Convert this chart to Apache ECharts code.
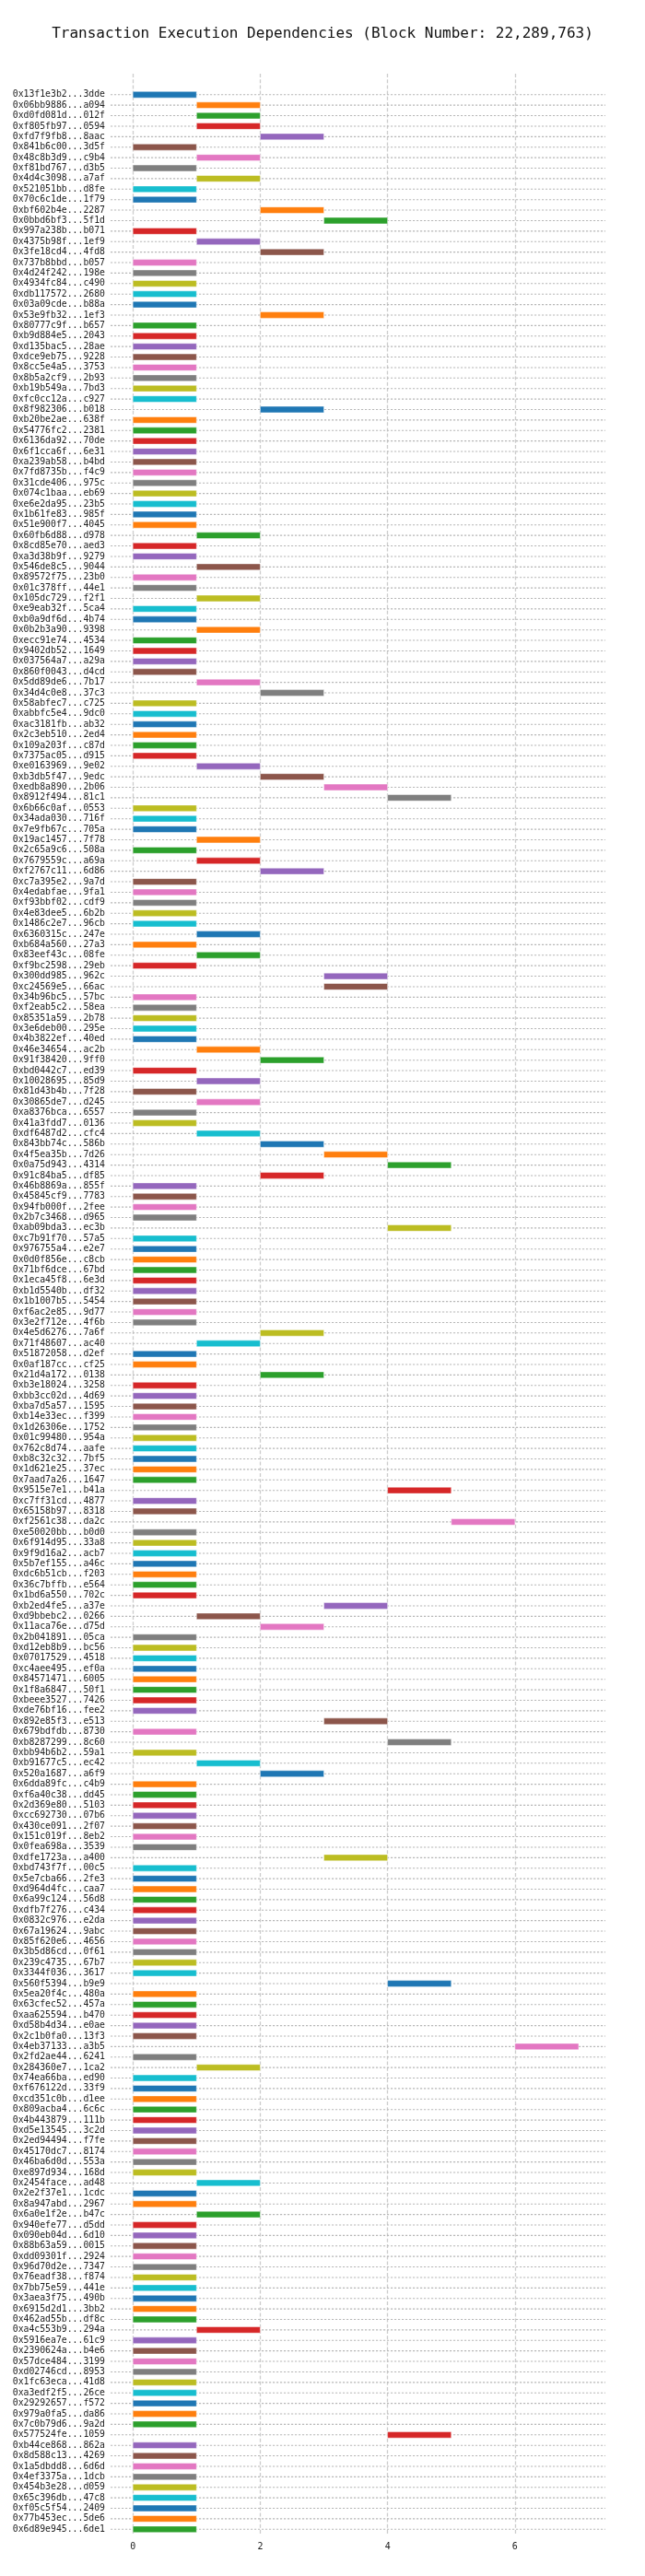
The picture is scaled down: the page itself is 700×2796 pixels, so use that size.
<!DOCTYPE html>
<html>
<head>
<meta charset="utf-8">
<title>Transaction Execution Dependencies</title>
<script src="https://cdn.jsdelivr.net/npm/echarts@6.0.0/dist/echarts.min.js"></script>
<style>
	html, body { margin: 0; padding: 0; background: #fff; }
	#deps { width: 700px; height: 2796px; }
</style>
</head>
<body>
<div id="deps"></div>
<script>
var blockNumber = '22,289,763';

// tx hashes, top to bottom
var txLabels = [
	'0x13f1e3b2...3dde', '0x06bb9886...a094', '0xd0fd081d...012f', '0xf805fb97...0594', '0xfd7f9fb8...8aac',
	'0x841b6c00...3d5f', '0x48c8b3d9...c9b4', '0xf81bd767...d3b5', '0x4d4c3098...a7af', '0x521051bb...d8fe',
	'0x70c6c1de...1f79', '0xbf602b4e...2287', '0x0bbd6bf3...5f1d', '0x997a238b...b071', '0x4375b98f...1ef9',
	'0x3fe18cd4...4fd8', '0x737b8bbd...b057', '0x4d24f242...198e', '0x4934fc84...c490', '0xdb117572...2680',
	'0x03a09cde...b88a', '0x53e9fb32...1ef3', '0x80777c9f...b657', '0xb9d884e5...2043', '0xd135bac5...28ae',
	'0xdce9eb75...9228', '0x8cc5e4a5...3753', '0x8b5a2cf9...2b93', '0xb19b549a...7bd3', '0xfc0cc12a...c927',
	'0x8f982306...b018', '0xb20be2ae...638f', '0x54776fc2...2381', '0x6136da92...70de', '0x6f1cca6f...6e31',
	'0xa239ab58...b4bd', '0x7fd8735b...f4c9', '0x31cde406...975c', '0x074c1baa...eb69', '0xe6e2da95...23b5',
	'0x1b61fe83...985f', '0x51e900f7...4045', '0x60fb6d88...d978', '0x8cd85e70...aed3', '0xa3d38b9f...9279',
	'0x546de8c5...9044', '0x89572f75...23b0', '0x01c378ff...44e1', '0x105dc729...f2f1', '0xe9eab32f...5ca4',
	'0xb0a9df6d...4b74', '0x0b2b3a90...9398', '0xecc91e74...4534', '0x9402db52...1649', '0x037564a7...a29a',
	'0x860f0043...d4cd', '0x5dd89de6...7b17', '0x34d4c0e8...37c3', '0x58abfec7...c725', '0xabbfc5e4...9dc0',
	'0xac3181fb...ab32', '0x2c3eb510...2ed4', '0x109a203f...c87d', '0x7375ac05...d915', '0xe0163969...9e02',
	'0xb3db5f47...9edc', '0xedb8a890...2b06', '0x8912f494...81c1', '0x6b66c0af...0553', '0x34ada030...716f',
	'0x7e9fb67c...705a', '0x19ac1457...7f78', '0x2c65a9c6...508a', '0x7679559c...a69a', '0xf2767c11...6d86',
	'0xc7a395e2...9a7d', '0x4edabfae...9fa1', '0xf93bbf02...cdf9', '0x4e83dee5...6b2b', '0x1486c2e7...96cb',
	'0x6360315c...247e', '0xb684a560...27a3', '0x83eef43c...08fe', '0xf9bc2598...29eb', '0x300dd985...962c',
	'0xc24569e5...66ac', '0x34b96bc5...57bc', '0xf2eab5c2...58ea', '0x85351a59...2b78', '0x3e6deb00...295e',
	'0x4b3822ef...40ed', '0x46e34654...ac2b', '0x91f38420...9ff0', '0xbd0442c7...ed39', '0x10028695...85d9',
	'0x81d43b4b...7f28', '0x30865de7...d245', '0xa8376bca...6557', '0x41a3fdd7...0136', '0xdf6487d2...cfc4',
	'0x843bb74c...586b', '0x4f5ea35b...7d26', '0x0a75d943...4314', '0x91c84ba5...df85', '0x46b8869a...855f',
	'0x45845cf9...7783', '0x94fb000f...2fee', '0x2b7c3468...d965', '0xab09bda3...ec3b', '0xc7b91f70...57a5',
	'0x976755a4...e2e7', '0x0d0f856e...c8cb', '0x71bf6dce...67bd', '0x1eca45f8...6e3d', '0xb1d5540b...df32',
	'0x1b1007b5...5454', '0xf6ac2e85...9d77', '0x3e2f712e...4f6b', '0x4e5d6276...7a6f', '0x71f48607...ac40',
	'0x51872058...d2ef', '0x0af187cc...cf25', '0x21d4a172...0138', '0xb3e18024...3258', '0xbb3cc02d...4d69',
	'0xba7d5a57...1595', '0xb14e33ec...f399', '0x1d26306e...1752', '0x01c99480...954a', '0x762c8d74...aafe',
	'0xb8c32c32...7bf5', '0x1d621e25...37ec', '0x7aad7a26...1647', '0x9515e7e1...b41a', '0xc7ff31cd...4877',
	'0x65158b97...8318', '0xf2561c38...da2c', '0xe50020bb...b0d0', '0x6f914d95...33a8', '0x9f9d16a2...acb7',
	'0x5b7ef155...a46c', '0xdc6b51cb...f203', '0x36c7bffb...e564', '0x1bd6a550...702c', '0xb2ed4fe5...a37e',
	'0xd9bbebc2...0266', '0x11aca76e...d75d', '0x2b041891...05ca', '0xd12eb8b9...bc56', '0x07017529...4518',
	'0xc4aee495...ef0a', '0x84571471...6005', '0x1f8a6847...50f1', '0xbeee3527...7426', '0xde76bf16...fee2',
	'0x892e85f3...e513', '0x679bdfdb...8730', '0xb8287299...8c60', '0xbb94b6b2...59a1', '0xb91677c5...ec42',
	'0x520a1687...a6f9', '0x6dda89fc...c4b9', '0xf6a40c38...dd45', '0x2d369e80...5103', '0xcc692730...07b6',
	'0x430ce091...2f07', '0x151c019f...8eb2', '0x0fea698a...3539', '0xdfe1723a...a400', '0xbd743f7f...00c5',
	'0x5e7cba66...2fe3', '0xd964d4fc...caa7', '0x6a99c124...56d8', '0xdfb7f276...c434', '0x0832c976...e2da',
	'0x67a19624...9abc', '0x85f620e6...4656', '0x3b5d86cd...0f61', '0x239c4735...67b7', '0x3344f036...3617',
	'0x560f5394...b9e9', '0x5ea20f4c...480a', '0x63cfec52...457a', '0xaa625594...b470', '0xd58b4d34...e0ae',
	'0x2c1b0fa0...13f3', '0x4eb37133...a3b5', '0x2fd2ae44...6241', '0x284360e7...1ca2', '0x74ea66ba...ed90',
	'0xf676122d...33f9', '0xcd351c0b...d1ee', '0x809acba4...6c6c', '0x4b443879...111b', '0xd5e13545...3c2d',
	'0x2ed94494...f7fe', '0x45170dc7...8174', '0x46ba6d0d...553a', '0xe897d934...168d', '0x2454face...ad48',
	'0x2e2f37e1...1cdc', '0x8a947abd...2967', '0x6a0e1f2e...b47c', '0x940efe77...d5dd', '0x090eb04d...6d10',
	'0x88b63a59...0015', '0xdd09301f...2924', '0x96d70d2e...7347', '0x76eadf38...f874', '0x7bb75e59...441e',
	'0x3aea3f75...490b', '0x6915d2d1...3bb2', '0x462ad55b...df8c', '0xa4c553b9...294a', '0x5916ea7e...61c9',
	'0x2390624a...b4e6', '0x57dce484...3199', '0xd02746cd...8953', '0x1fc63eca...41d8', '0xa3edf2f5...26ce',
	'0x29292657...f572', '0x979a0fa5...da86', '0x7c0b79d6...9a2d', '0x577524fe...1059', '0xb44ce868...862a',
	'0x8d588c13...4269', '0x1a5dbdd8...6d6d', '0x4ef3375a...1dcb', '0x454b3e28...d059', '0x65c396db...47c8',
	'0xf05c5f54...2409', '0x77b453ec...5de6', '0x6d89e945...6de1'
];

// execution slot each tx starts in (each one runs for one slot)
var startSlots = [
	0, 1, 1, 1, 2, 0, 1, 0, 1, 0,   0, 2, 3, 0, 1, 2, 0, 0, 0, 0,
	0, 2, 0, 0, 0, 0, 0, 0, 0, 0,   2, 0, 0, 0, 0, 0, 0, 0, 0, 0,
	0, 0, 1, 0, 0, 1, 0, 0, 1, 0,   0, 1, 0, 0, 0, 0, 1, 2, 0, 0,
	0, 0, 0, 0, 1, 2, 3, 4, 0, 0,   0, 1, 0, 1, 2, 0, 0, 0, 0, 0,
	1, 0, 1, 0, 3, 3, 0, 0, 0, 0,   0, 1, 2, 0, 1, 0, 1, 0, 0, 1,
	2, 3, 4, 2, 0, 0, 0, 0, 4, 0,   0, 0, 0, 0, 0, 0, 0, 0, 2, 1,
	0, 0, 2, 0, 0, 0, 0, 0, 0, 0,   0, 0, 0, 4, 0, 0, 5, 0, 0, 0,
	0, 0, 0, 0, 3, 1, 2, 0, 0, 0,   0, 0, 0, 0, 0, 3, 0, 4, 0, 1,
	2, 0, 0, 0, 0, 0, 0, 0, 3, 0,   0, 0, 0, 0, 0, 0, 0, 0, 0, 0,
	4, 0, 0, 0, 0, 0, 6, 0, 1, 0,   0, 0, 0, 0, 0, 0, 0, 0, 0, 1,
	0, 0, 1, 0, 0, 0, 0, 0, 0, 0,   0, 0, 0, 1, 0, 0, 0, 0, 0, 0,
	0, 0, 0, 4, 0, 0, 0, 0, 0, 0,   0, 0, 0
];
var slotLength = 1;

var palette = ['#1f77b4', '#ff7f0e', '#2ca02c', '#d62728', '#9467bd',
	'#8c564b', '#e377c2', '#7f7f7f', '#bcbd22', '#17becf'];

var xMin = -0.35;
var xMax = 7.42;
var monoFont = 'DejaVu Sans Mono';

var chart = echarts.init(document.getElementById('deps'), null, { renderer: 'canvas' });

var seriesData = [];
for (var i = 0; i < startSlots.length; i++) {
	seriesData.push([startSlots[i], i]);
}

// one bar per tx, plus the dotted guide line for its row
function renderBar(params, api) {
	var row = api.value(1);
	var from = api.coord([api.value(0), row]);
	var to = api.coord([api.value(0) + slotLength, row]);
	var lineLeft = api.coord([xMin, row]);
	var lineRight = api.coord([xMax, row]);
	var h = api.size([0, 1])[1] * 0.6;
	return {
		type: 'group',
		children: [
			{
				type: 'line',
				shape: { x1: lineLeft[0], y1: lineLeft[1], x2: lineRight[0], y2: lineRight[1] },
				style: { stroke: '#b8b8b8', lineWidth: 1.1, lineDash: [2.2, 1.8] },
				silent: true
			},
			{
				type: 'rect',
				shape: { x: from[0], y: from[1] - h / 2, width: to[0] - from[0], height: h },
				style: { fill: palette[row % palette.length], stroke: 'rgba(255,255,255,0.45)', lineWidth: 1 }
			}
		]
	};
}

var option = {
	animation: false,
	backgroundColor: '#ffffff',
	title: {
		text: 'Transaction Execution Dependencies (Block Number: ' + blockNumber + ')',
		left: 'center',
		top: 24,
		textStyle: {
			fontFamily: monoFont,
			fontSize: 16,
			fontWeight: 'normal',
			color: '#111'
		}
	},
	grid: {
		left: 120,
		right: 43,
		top: 80,
		bottom: 45
	},
	xAxis: {
		type: 'value',
		min: xMin,
		max: xMax,
		splitNumber: 4,
		axisLine: { show: false },
		axisTick: { show: false },
		axisLabel: {
			showMinLabel: false,
			showMaxLabel: false,
			margin: 8,
			fontFamily: monoFont,
			fontSize: 10,
			color: '#222'
		},
		splitLine: {
			show: true,
			showMinLine: false,
			showMaxLine: false,
			lineStyle: { color: '#cccccc', width: 1.3, type: [4, 2.2] }
		}
	},
	yAxis: {
		type: 'value',
		inverse: true,
		min: -2,
		max: 232.5,
		interval: 1,
		axisLine: { show: false },
		axisTick: { show: false },
		splitLine: { show: false },
		axisLabel: {
			margin: 6,
			fontFamily: monoFont,
			fontSize: 9.8,
			color: '#222',
			formatter: function (v) {
				if (v >= 0 && v < txLabels.length && v === Math.round(v)) {
					return txLabels[v];
				}
				return '';
			}
		}
	},
	series: [
		{
			type: 'custom',
			renderItem: renderBar,
			encode: { x: 0, y: 1 },
			data: seriesData
		}
	]
};
chart.setOption(option);
</script>
</body>
</html>
